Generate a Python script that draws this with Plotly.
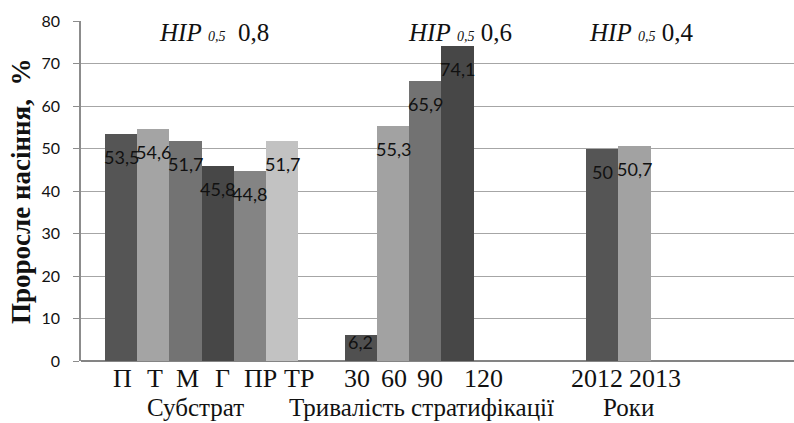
import plotly.graph_objects as go

# Seed emergence, %, by factor
substrate_labels = ["П", "Т", "М", "Г", "ПР", "ТР"]
substrate_values = [53.5, 54.6, 51.7, 45.8, 44.8, 51.7]

strat_labels = ["30", "60", "90", "120"]
strat_values = [6.2, 55.3, 65.9, 74.1]

year_labels = ["2012", "2013"]
year_values = [50, 50.7]

group_titles = ["Субстрат", "Тривалість стратифікації", "Роки"]
lsd_values = ["0,8", "0,6", "0,4"]

y_ticks = [0, 10, 20, 30, 40, 50, 60, 70, 80]

# ---- layout / style ----
W, H = 794, 423
L, R, T, B = 81, 0, 21, 62
PLOT_W = W - L - R
PLOT_H = H - T - B
SLOT = 32.2                      # px per bar slot
FIRST_CENTER = 121               # px of first bar centre
group_starts = [0, 7.45, 14.95]  # slot index of each group's first bar
x_lo = (L - FIRST_CENTER) / SLOT
x_hi = (W - R - FIRST_CENTER) / SLOT

group_colors = [
    ["#555555", "#a4a4a4", "#737373", "#474747", "#848484", "#c2c2c2"],
    ["#505050", "#a2a2a2", "#727272", "#474747"],
    ["#555555", "#a2a2a2"],
]

SERIF = "Liberation Serif, Times New Roman, serif"
SANS = "Lato, Liberation Sans, sans-serif"


def px_x(px):
    return (px - L) / PLOT_W


def px_y(py):
    return (H - B - py) / PLOT_H


groups = [
    (substrate_labels, substrate_values),
    (strat_labels, strat_values),
    (year_labels, year_values),
]

fig = go.Figure()
annotations = []

for (labels, values), start, colors in zip(groups, group_starts, group_colors):
    xs = [start + i for i in range(len(values))]
    fig.add_trace(go.Bar(
        x=xs, y=values, width=1,
        marker=dict(color=colors, line=dict(width=0)),
        hoverinfo="skip", showlegend=False,
    ))
    for x, v in zip(xs, values):
        drop = 23 if v > 12 else 7
        annotations.append(dict(
            x=x, y=v, xref="x", yref="y",
            text=f"{v:g}".replace(".", ","),
            showarrow=False, yshift=-drop, yanchor="middle",
            font=dict(family=SANS, size=18, color="#111111"),
        ))

# category names under the axis
label_centers_px = [122, 155, 187, 222, 260, 299, 357, 394, 430, 483, 597, 655]
all_labels = substrate_labels + strat_labels + year_labels
for lab, cx in zip(all_labels, label_centers_px):
    annotations.append(dict(
        x=px_x(cx), y=px_y(378), xref="paper", yref="paper",
        text=lab, showarrow=False, xanchor="center", yanchor="middle",
        font=dict(family=SERIF, size=26, color="#111111"),
    ))

# group names
title_centers_px = [195, 421, 628]
for txt, cx in zip(group_titles, title_centers_px):
    annotations.append(dict(
        x=px_x(cx), y=px_y(407), xref="paper", yref="paper",
        text=txt, showarrow=False, xanchor="center", yanchor="middle",
        borderpad=0,
        font=dict(family=SERIF, size=25, color="#111111"),
    ))

# least significant difference notes
lsd_left_px = [157, 406, 587]
lsd_gap = ["\u00a0\u00a0", "\u00a0", "\u00a0"]
for val, lx, gap in zip(lsd_values, lsd_left_px, lsd_gap):
    annotations.append(dict(
        x=px_x(lx), y=px_y(32), xref="paper", yref="paper",
        text=f'<i>НІР <span style="font-size:14px">0,5</span></i>{gap}{val}',
        showarrow=False, xanchor="left", yanchor="middle",
        font=dict(family=SERIF, size=25, color="#111111"),
    ))

# y-axis title
annotations.append(dict(
    x=px_x(21), y=px_y(192), xref="paper", yref="paper",
    text="<b>Проросле насіння,\u00a0\u00a0%</b>", textangle=-90,
    showarrow=False, xanchor="center", yanchor="middle",
    font=dict(family=SERIF, size=27, color="#111111"),
))

fig.update_layout(
    width=W, height=H,
    margin=dict(l=L, r=R, t=T, b=B, pad=0),
    paper_bgcolor="white", plot_bgcolor="white",
    bargap=0, barmode="overlay",
    annotations=annotations,
    xaxis=dict(
        range=[x_lo, x_hi], showticklabels=False, showgrid=False,
        zeroline=False, showline=False, ticks="",
    ),
    yaxis=dict(
        range=[0, 80], tickvals=y_ticks, showgrid=True,
        gridcolor="#a6a6a6", gridwidth=1.3,
        zeroline=True, zerolinecolor="#848484", zerolinewidth=2.2,
        showline=True, linecolor="#8c8c8c", linewidth=1.5,
        ticks="outside", ticklen=6, tickcolor="#8c8c8c", tickwidth=1.3,
        ticklabelstandoff=10,
        tickfont=dict(family=SANS, size=16, color="#111111"),
    ),
)

fig.write_html("out.html")
